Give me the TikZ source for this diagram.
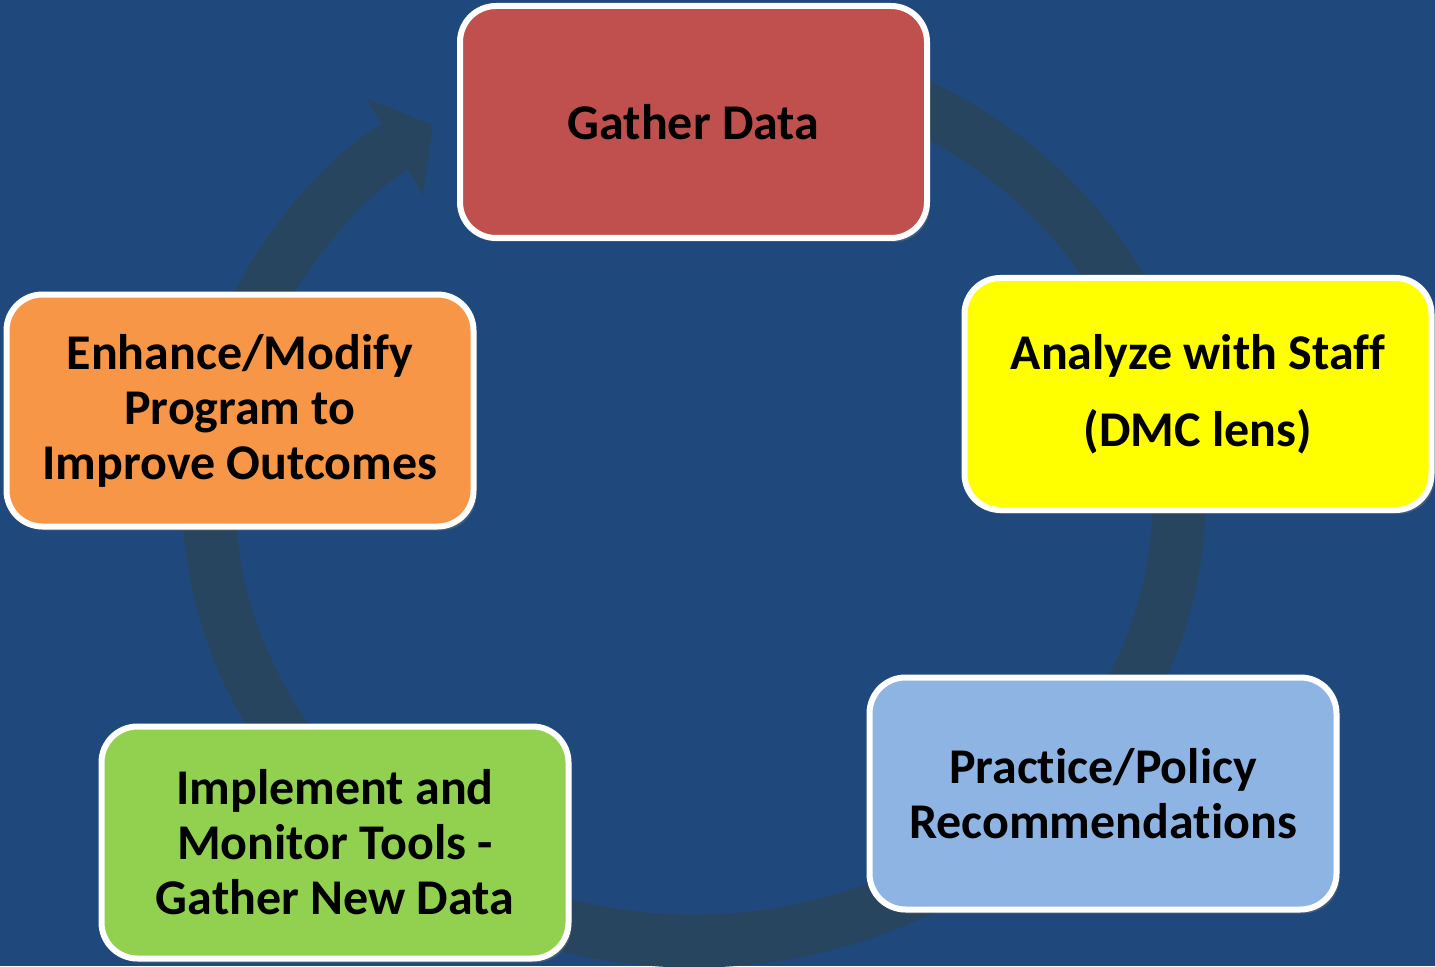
\documentclass[tikz,border=0pt]{standalone}
\usepackage{fontspec}
\setmainfont{Carlito}[Ligatures=NoCommon]
\usepackage{tikz}
\usetikzlibrary{arrows.meta,shadows}

\definecolor{bgblue}{RGB}{31,73,125}
\definecolor{ringslate}{RGB}{39,69,94}
\definecolor{gatherred}{RGB}{192,80,77}
\definecolor{analyzeyellow}{RGB}{255,255,0}
\definecolor{practiceblue}{RGB}{142,180,227}
\definecolor{implementgreen}{RGB}{146,208,80}
\definecolor{enhanceorange}{RGB}{247,150,70}

\tikzset{
  stage/.style={draw=white, line width=3pt, rounded corners=18pt,
    minimum width=233.5pt, minimum height=116pt, align=center,
    text=black, font=\fontsize{25}{27.5}\selectfont\bfseries,
    drop shadow={shadow xshift=1.5pt, shadow yshift=-2pt, opacity=.35}}
}

\begin{document}
\begin{tikzpicture}[x=0.5pt,y=0.5pt]
    %background
    \fill[bgblue] (0,0) rectangle (1435,966);
    \useasboundingbox (0,0) rectangle (1435,966);
    %cycle
    \coordinate (c) at (694,468);
    \draw[ringslate, line width=26.5pt,
          -{Triangle[length=22pt, width=56.5pt, line width=0pt]}]
      ([shift={(70:485 and 443)}]c) arc[start angle=70, end angle=-237.4,
                                        x radius=485, y radius=443];
    %stages
    \node[stage, fill=gatherred] (gather) at (693.5,844) {Gather Data};
    \node[stage, fill=analyzeyellow, font=\fontsize{25}{38.5}\selectfont\bfseries]
      (analyze) at (1198,572) {Analyze with Staff\\(DMC lens)};
    \node[stage, fill=practiceblue] (practice) at (1103,172.5)
      {Practice/Policy\\Recommendations};
    \node[stage, fill=implementgreen] (implement) at (335,123.5)
      {Implement and\\Monitor Tools -\\Gather New Data};
    \node[stage, fill=enhanceorange] (enhance) at (240,555.5)
      {Enhance/Modify\\Program to\\Improve Outcomes};
\end{tikzpicture}
\end{document}
